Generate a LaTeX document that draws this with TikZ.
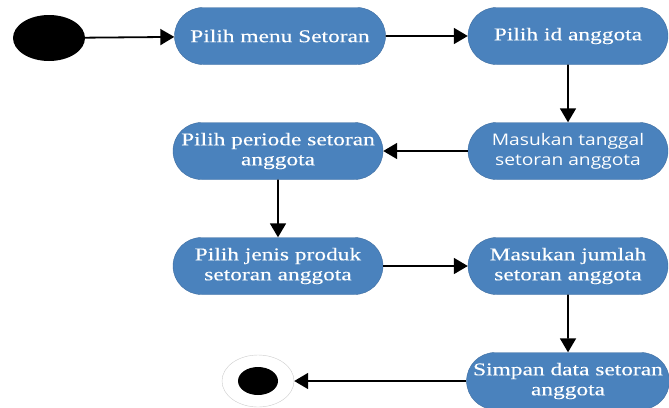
\documentclass[tikz,border=0pt]{standalone}
\usepackage{fontspec}
\setmainfont{Liberation Serif}[FakeStretch=1.3,FakeBold=0.2]
\newfontfamily\segoe{Open Sans}[FakeStretch=1.2]
\usetikzlibrary{shapes.misc,shapes.geometric,arrows.meta}

\definecolor{actblue}{RGB}{74,130,189}

\tikzset{
    act/.style={rounded rectangle, fill=actblue, draw=actblue!85!black, line width=0.4pt,
        text=white, minimum width=200pt, minimum height=57pt, inner sep=0pt,
        align=center, font=\fontsize{18}{20}\selectfont},
    flow/.style={line width=1.8pt, -{Triangle[length=14pt,width=16pt]}}
}

\begin{document}
\begin{tikzpicture}[x=1pt,y=-1pt]
    \useasboundingbox (0,0) rectangle (669,407);

    % Start
    \node[ellipse, fill=black, minimum width=72pt, minimum height=46pt, inner sep=0pt] (start) at (49,38) {};

    % Activities
    \node[act, minimum width=211pt] (menu) at (280,36) {Pilih menu Setoran};
    \node[act] (idang) at (568,36) {Pilih id anggota};
    \node[act, font=\segoe\fontsize{16}{20}\selectfont] (tanggal) at (568,151) {Masukan tanggal\\setoran anggota};
    \node[act, minimum width=210pt] (periode) at (278,151) {Pilih periode setoran\\anggota};
    \node[act, minimum width=210pt] (jenis) at (278,266) {Pilih jenis produk\\setoran anggota};
    \node[act] (jumlah) at (568,266) {Masukan jumlah\\setoran anggota};
    \node[act] (simpan) at (568,381) {Simpan data setoran\\anggota};

    % End
    \node[ellipse, fill=white, draw=black!20, minimum width=72pt, minimum height=52pt, inner sep=0pt] (finish) at (258,381) {};
    \fill[black] (finish.center) ellipse (20 and 14);

    % Flow
    \draw[flow] (start) -- (menu);
    \draw[flow] (menu) -- (idang);
    \draw[flow] (idang) -- (tanggal);
    \draw[flow] (tanggal) -- (periode);
    \draw[flow] (periode) -- (jenis);
    \draw[flow] (jenis) -- (jumlah);
    \draw[flow] (jumlah) -- (simpan);
    \draw[flow] (simpan) -- (finish);
\end{tikzpicture}
\end{document}
